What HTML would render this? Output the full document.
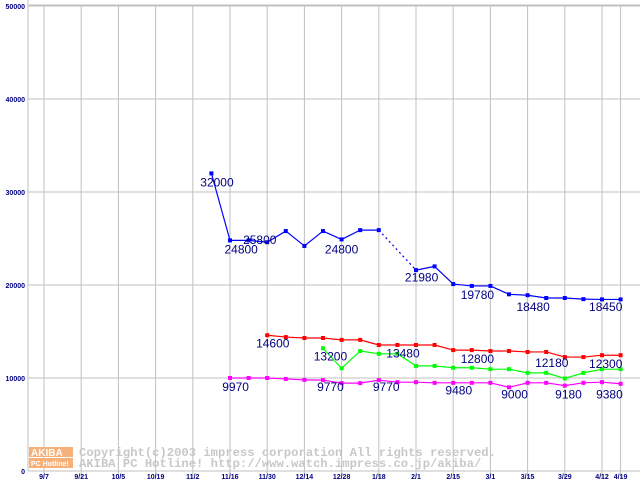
<!DOCTYPE html>
<html><head><meta charset="utf-8"><style>
body{margin:0;background:#fff}
svg{display:block}
text{font-family:"Liberation Sans",sans-serif}
text.mono{font-family:"Liberation Mono",monospace}
</style></head><body>
<svg id="chart" width="640" height="480" xmlns="http://www.w3.org/2000/svg">
<rect x="0" y="0" width="640" height="480" fill="#fff"/>
<g id="grid"></g>
<g id="wm">
<rect x="29" y="447" width="44" height="10" fill="#f6b07a"/>
<rect x="29" y="458" width="44" height="10" fill="#f6b07a"/>
<text x="31" y="456" font-size="10" fill="#fff" font-weight="bold">AKIBA</text>
<text x="31" y="466" font-size="7" fill="#fff" font-weight="bold">PC Hotline!</text>
<text class="mono" x="79" y="456" font-size="12.2" fill="#c8c8c8" font-weight="bold">Copyright(c)2003 impress corporation All rights reserved.</text>
<text class="mono" x="79" y="467" font-size="12.2" fill="#c8c8c8" font-weight="bold">AKIBA PC Hotline!  http://www.watch.impress.co.jp/akiba/</text>
</g>
<g id="series"></g>
<g id="labels"></g>
</svg>
<script>
const xTicks=["9/7","9/21","10/5","10/19","11/2","11/16","11/30","12/14","12/28","1/18","2/1","2/15","3/1","3/15","3/29","4/12","4/19"];
const xTickIdx=[0,2,4,6,8,10,12,14,16,18,20,22,24,26,28,30,31];
const yTicks=[0,10000,20000,30000,40000,50000];
const blueStart=9;
const blueVals=[32000,24800,24800,24600,25800,24200,25800,24900,25900,25900,null,21600,22000,20100,19900,19900,19000,18900,18600,18600,18480,18450,18450];
const redStart=12;
const redVals=[14600,14400,14300,14300,14100,14100,13550,13550,13550,13550,13000,13000,12900,12900,12800,12800,12250,12250,12450,12450];
const greenStart=15;
const greenVals=[13200,11050,12900,12600,12600,11300,11300,11100,11100,10950,10950,10550,10550,9950,10550,10950,10950];
const magStart=10;
const magVals=[10000,10000,10000,9900,9800,9770,9450,9450,9770,9550,9550,9480,9480,9480,9480,9000,9480,9480,9180,9480,9550,9380];
const labelTexts=["32000","24800","25800","24800","21980","19780","18480","18450","14600","13200","13480","12800","12180","12300","9970","9770","9770","9480","9000","9180","9380"];
const labelIdx=[9.3,10.6,11.6,16,20.3,23.3,26.3,30.2,12.3,15.4,19.3,23.3,27.3,30.2,10.3,15.4,18.4,22.3,25.3,28.2,30.4];
const labelVals=[30600,23400,24400,23400,20400,18500,17200,17200,13300,11900,12200,11600,11200,11100,8600,8600,8600,8200,7800,7800,7800];
const ns="http://www.w3.org/2000/svg";
const X=i=>44+i*18.6;
const Y=v=>471-v*0.0093;
function mk(t,a,p){const e=document.createElementNS(ns,t);for(const k in a)e.setAttribute(k,a[k]);p.appendChild(e);return e;}
const grid=document.getElementById('grid');
mk('line',{x1:28,y1:5,x2:640,y2:5,stroke:'#c0c0c0'},grid);
yTicks.forEach(v=>{
 const l=mk('line',{x1:28,y1:Y(v),x2:640,y2:Y(v),stroke:'#c0c0c0'},grid);
 
 
 const t=mk('text',{x:25,y:Y(v)+3,'font-size':7,'font-weight':'bold','text-anchor':'end',fill:'#000080'},grid);
 t.textContent=v;
 
 
});
mk('line',{x1:28,y1:0,x2:28,y2:471,stroke:'#c0c0c0'},grid);
xTicks.forEach((s,k)=>{
 const x=X(xTickIdx[k]);
 const l=mk('line',{x1:x,y1:5,x2:x,y2:478,stroke:'#c0c0c0'},grid);
 
 
 const t=mk('text',{x:x,y:479,'font-size':7,'font-weight':'bold','text-anchor':'middle',fill:'#000080'},grid);
 t.textContent=s;
 
 
});
const sg=document.getElementById('series');
function series(start,vals,color,name){
 const g=mk('g',{},sg);
 
 
 let prev=null,gap=false;
 vals.forEach((v,k)=>{
  if(v===null){gap=true;return;}
  const x=X(start+k),y=Y(v);
  if(prev){const ln=mk('line',{x1:prev[0],y1:prev[1],x2:x,y2:y,stroke:color,'stroke-width':1.2},g);if(gap)ln.setAttribute('stroke-dasharray','2,3');}
  prev=[x,y];gap=false;
 });
 vals.forEach((v,k)=>{
  if(v===null)return;
  const p=mk('rect',{x:X(start+k)-2,y:Y(v)-2,width:4,height:4,fill:color},g);
  
  
 });
}
series(blueStart,blueVals,'#0000ff','blue-series');
series(redStart,redVals,'#ff0000','red-series');
series(greenStart,greenVals,'#00ff00','green-series');
series(magStart,magVals,'#ff00ff','magenta-series');
const lg=document.getElementById('labels');
labelTexts.forEach((s,k)=>{
 const t=mk('text',{x:X(labelIdx[k]),y:Y(labelVals[k]),'font-size':12,'text-anchor':'middle',fill:'#000080'},lg);
 t.textContent=s;
 
 
});
</script>
</body></html>
